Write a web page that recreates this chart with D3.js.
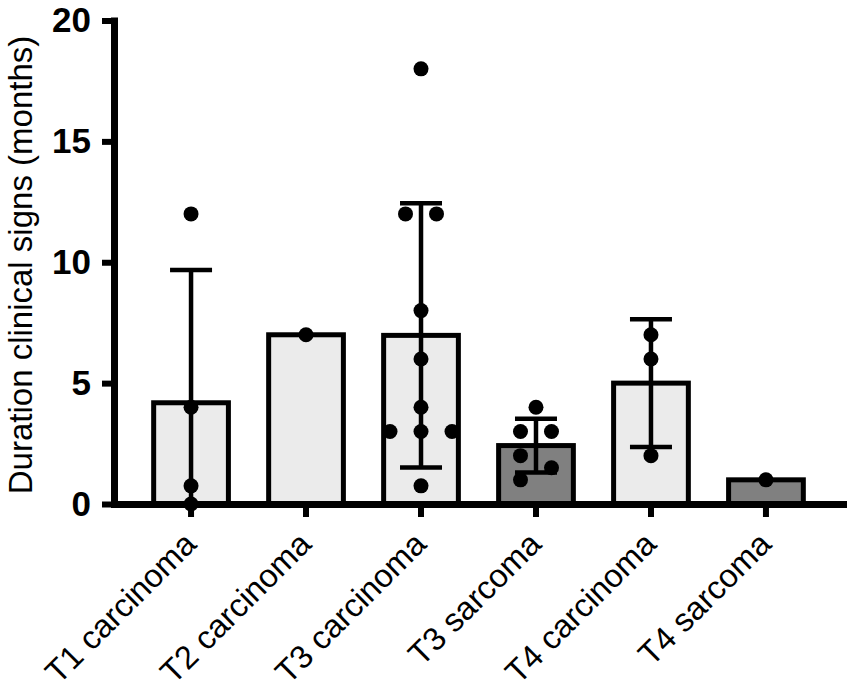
<!DOCTYPE html>
<html>
<head>
<meta charset="utf-8">
<script src="https://cdn.jsdelivr.net/npm/d3@7"></script>
<style>
  body { margin: 0; background: #fff; }
  text { font-family: "Liberation Sans", Arial, sans-serif; }
</style>
</head>
<body>
<div id="chart"></div>
<script>
// categories and the individual observations per group (months)
const categories = ["T1 carcinoma", "T2 carcinoma", "T3 carcinoma", "T3 sarcoma", "T4 carcinoma", "T4 sarcoma"];
const t1Carcinoma = [12, 4, 0.75, 0];
const t2Carcinoma = [7];
const t3Carcinoma = [18, 12, 12, 8, 6, 4, 3, 3, 3, 0.75];
const t3Sarcoma = [4, 3, 3, 2, 1.5, 1];
const t4Carcinoma = [7, 6, 2];
const t4Sarcoma = [1];
const groups = [t1Carcinoma, t2Carcinoma, t3Carcinoma, t3Sarcoma, t4Carcinoma, t4Sarcoma];
const yTicks = [0, 5, 10, 15, 20];
const yLabel = "Duration clinical signs (months)";

const width = 850, height = 695;
const dotR = 7.5, slot = 31;

const svg = d3.select("#chart")
  .append("svg")
  .attr("width", width)
  .attr("height", height);

const x = d3.scaleBand()
  .domain(categories)
  .range([114, 843])
  .paddingInner(0.35)
  .paddingOuter(0.345);

const y = d3.scaleLinear()
  .domain([0, 20])
  .range([504, 20.5]);

const stats = categories.map((c, i) => {
  const vals = groups[i];
  const mean = d3.mean(vals);
  const sd = d3.deviation(vals);
  return { cat: c, vals, mean, sd };
});

// bars
svg.selectAll(".bar")
  .data(stats)
  .enter()
  .append("rect")
  .attr("class", "bar")
  .attr("x", d => x(d.cat))
  .attr("y", d => y(d.mean))
  .attr("width", x.bandwidth())
  .attr("height", d => y(0) - y(d.mean))
  .attr("fill", d => d.cat.includes("sarcoma") ? "#808080" : "#ebebeb")
  .attr("stroke", "#000")
  .attr("stroke-width", 5);

// error bars (mean +/- SD), only where n > 1
const err = svg.selectAll(".err")
  .data(stats.filter(d => d.sd !== undefined))
  .enter()
  .append("g")
  .attr("class", "err")
  .attr("stroke", "#000")
  .attr("stroke-width", 4.5);

const cx = d => x(d.cat) + x.bandwidth() / 2;
const lo = d => Math.max(0, d.mean - d.sd);
const hi = d => d.mean + d.sd;

err.append("line")
  .attr("x1", cx).attr("x2", cx)
  .attr("y1", d => y(lo(d)))
  .attr("y2", d => y(hi(d)));
err.append("line")
  .attr("x1", d => cx(d) - 21).attr("x2", d => cx(d) + 21)
  .attr("y1", d => y(hi(d))).attr("y2", d => y(hi(d)));
err.append("line")
  .attr("x1", d => cx(d) - 21).attr("x2", d => cx(d) + 21)
  .attr("y1", d => y(lo(d))).attr("y2", d => y(lo(d)));

// axes
const yAxis = svg.append("g")
  .attr("transform", "translate(114,0)")
  .call(d3.axisLeft(y).tickValues(yTicks).tickSize(12).tickSizeOuter(0));
yAxis.select(".domain").attr("stroke-width", 7).attr("stroke-linecap", "square");
yAxis.selectAll(".tick line").attr("stroke-width", 6);
yAxis.selectAll(".tick text")
  .attr("x", -23)
  .attr("font-size", 35)
  .attr("font-weight", "bold")
  .attr("fill", "#000");

const xAxis = svg.append("g")
  .attr("transform", "translate(0,504)")
  .call(d3.axisBottom(x).tickSize(13).tickSizeOuter(0).tickFormat(""));
xAxis.select(".domain").attr("stroke-width", 7).attr("stroke-linecap", "square");
xAxis.selectAll(".tick line").attr("stroke-width", 6);
xAxis.selectAll(".tick text").remove();

svg.selectAll(".xlabel")
  .data(categories)
  .enter()
  .append("text")
  .attr("class", "xlabel")
  .attr("transform", d => "translate(" + (x(d) + x.bandwidth() / 2 + 7) + ",546) rotate(-45)")
  .attr("text-anchor", "end")
  .attr("font-size", 32.5)
  .attr("fill", "#000")
  .text(d => d);

svg.append("text")
  .attr("transform", "translate(32,265) rotate(-90)")
  .attr("text-anchor", "middle")
  .attr("font-size", 33)
  .attr("fill", "#000")
  .text(yLabel);

// scatter: points close together are spread sideways
function spread(vals) {
  const sorted = vals.slice().sort((a, b) => b - a);
  const runs = [];
  sorted.forEach((v, i) => {
    if (i > 0 && y(v) - y(sorted[i - 1]) < 2 * dotR + 1) runs[runs.length - 1].push(v);
    else runs.push([v]);
  });
  const out = [];
  runs.forEach(run => {
    const same = run.every(v => v === run[0]);
    run.forEach((v, j) => {
      const off = run.length === 1 ? 0
        : same ? (j - (run.length - 1) / 2) * slot
        : (j % 2 === 0 ? -slot / 2 : slot / 2);
      out.push({ v, off });
    });
  });
  return out;
}

svg.selectAll(".grp")
  .data(stats)
  .enter()
  .append("g")
  .attr("class", "grp")
  .selectAll("circle")
  .data(d => spread(d.vals).map(p => ({ ...p, cx: cx(d) })))
  .enter()
  .append("circle")
  .attr("cx", p => p.cx + p.off)
  .attr("cy", p => y(p.v))
  .attr("r", dotR)
  .attr("fill", "#000");
</script>
</body>
</html>
